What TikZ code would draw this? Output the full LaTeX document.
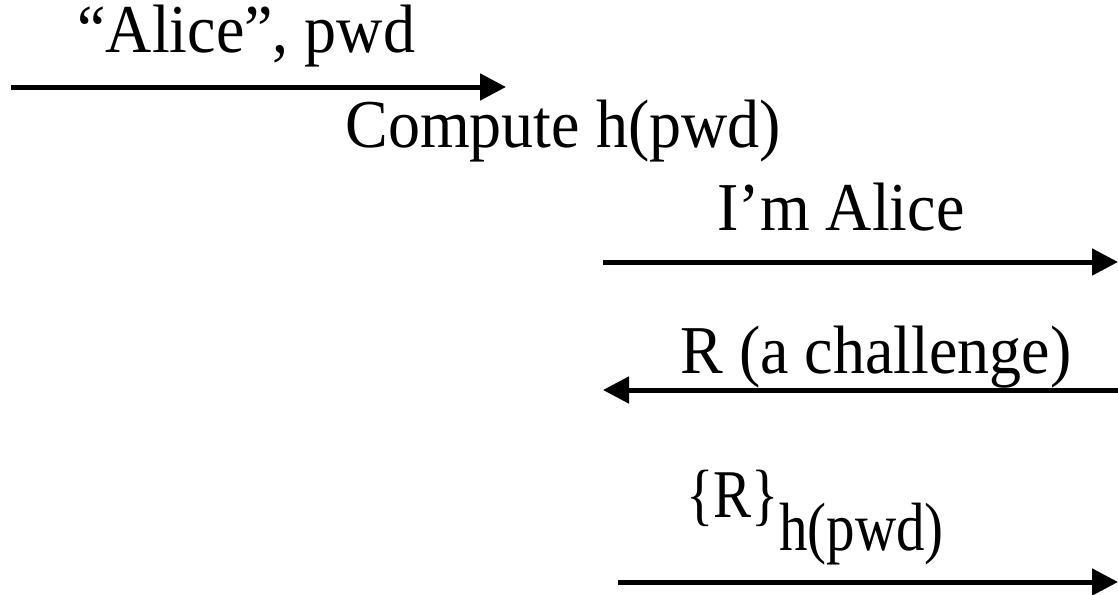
\documentclass[tikz,border=0pt]{standalone}
\usepackage{fontspec}
\setmainfont{Liberation Serif}
\usepackage{tikz}
\usetikzlibrary{arrows.meta}

\tikzset{
  msg/.style={line width=2.5pt, -{Triangle[length=13pt,width=13pt]}},
  lbl/.style={anchor=base west, inner sep=0pt, yscale=1.07, transform shape,
    font=\fontsize{32}{38}\selectfont},
}

\begin{document}
\begin{tikzpicture}[x=0.5pt,y=-0.5pt]
        \useasboundingbox (0,0) rectangle (1118,594);

        \node[lbl] (pwd) at (77,52) {``Alice'', pwd};
        \node[lbl] (hash) at (345,147) {Compute h(pwd)};
        \node[lbl] (hello) at (717,230) {I'm Alice};
        \node[lbl] (chal) at (680,373) {R (a challenge)};
        \node[lbl, yscale=1.12, font=\fontsize{28.5}{34}\selectfont] (resp) at (686,517)
            {\{R\}\raisebox{-14pt}{h(pwd)}};

        \coordinate (a1) at (11,87);
        \coordinate (b1) at (506,87);
        \coordinate (a2) at (603,262);
        \coordinate (b2) at (1118,262);
        \coordinate (a3) at (1118,390);
        \coordinate (b3) at (603,390);
        \coordinate (a4) at (618,582);
        \coordinate (b4) at (1118,582);

        \draw[msg] (a1) -- (b1);
        \draw[msg] (a2) -- (b2);
        \draw[msg] (a3) -- (b3);
        \draw[msg] (a4) -- (b4);
    \end{tikzpicture}
\end{document}
